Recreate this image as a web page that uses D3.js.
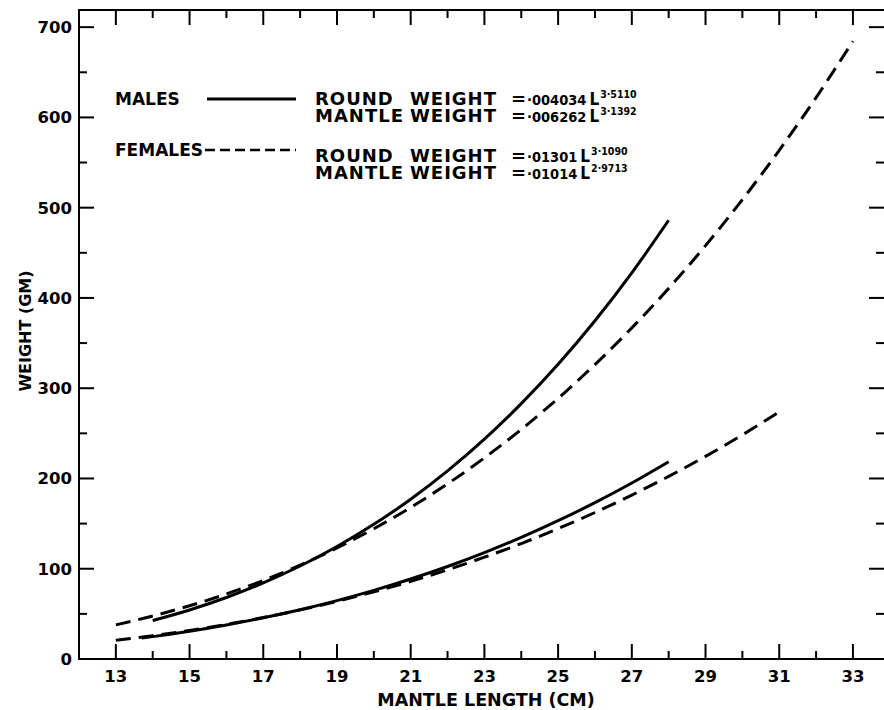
<!DOCTYPE html>
<html>
<head>
<meta charset="utf-8">
<script src="https://cdn.jsdelivr.net/npm/d3@7"></script>
<style>
	body { margin: 0; background: #fff; }
	svg text { font-family: "DejaVu Sans", sans-serif; font-weight: bold; fill: #000; }
	svg text.num { font-family: "DejaVu Sans Condensed", "DejaVu Sans", sans-serif; }
</style>
</head>
<body>
<svg id="chart" width="884" height="710"></svg>
<script>
// values (weight in gm at mantle length in cm)
const maleRoundLengths = [14, 15, 16, 17, 18, 19, 20, 21, 22, 23, 24, 25, 26, 27, 28];
const maleRound = [42.6, 54.3, 68.1, 84.3, 103, 124.6, 149.2, 177, 208.4, 243.6, 282.9, 326.5, 374.7, 427.8, 486.1];
const maleMantleLengths = [13.7, 14, 15, 16, 17, 18, 19, 20, 21, 22, 23, 24, 25, 26, 27, 28];
const maleMantle = [23.2, 24.8, 30.8, 37.7, 45.6, 54.6, 64.7, 76, 88.6, 102.5, 117.9, 134.7, 153.2, 173.2, 195, 218.6];
const femaleRoundLengths = [13, 14, 15, 16, 17, 18, 19, 20, 21, 22, 23, 24, 25, 26, 27, 28, 29, 30, 31, 32, 33];
const femaleRound = [37.8, 47.6, 59, 72.1, 87, 104, 123, 144.3, 167.9, 194, 222.8, 254.3, 288.7, 326.2, 366.8, 410.6, 458, 508.9, 563.6, 622, 684.4];
const femaleMantleLengths = [13, 14, 15, 16, 17, 18, 19, 20, 21, 22, 23, 24, 25, 26, 27, 28, 29, 30, 31];
const femaleMantle = [20.7, 25.8, 31.7, 38.4, 45.9, 54.4, 63.9, 74.4, 86, 98.8, 112.8, 127.9, 144.5, 162.3, 181.6, 202.3, 224.5, 248.3, 273.7];

const xTickLabels = [13, 15, 17, 19, 21, 23, 25, 27, 29, 31, 33];
const xMinorTicks = [14, 16, 18, 20, 22, 24, 26, 28, 30, 32];
const yTickLabels = [0, 100, 200, 300, 400, 500, 600, 700];
const yMinorTicks = [50, 150, 250, 350, 450, 550, 650];

const legendSexes = ['MALES', 'FEMALES'];
const eqLabels = ['ROUND', 'MANTLE', 'ROUND', 'MANTLE'];
const eqCoefs = ['·004034', '·006262', '·01301', '·01014'];
const eqExps = ['3·5110', '3·1392', '3·1090', '2·9713'];

const svg = d3.select('#chart');

const x = d3.scaleLinear().domain([12, 33.87]).range([79, 885]);
const y = d3.scaleLinear().domain([0, 719]).range([659, 10]);

// FRAME
svg.append('rect')
	.attr('x', x(12)).attr('y', y(719))
	.attr('width', x(33.87) - x(12)).attr('height', y(0) - y(719))
	.attr('fill', 'none').attr('stroke', '#000').attr('stroke-width', 2);

// TICKS (all pointing into the plot)
const g = svg.append('g');
const tickSet = (vals, len) => vals.map(v => ({ v, len }));
const xt = [...tickSet(xTickLabels, 15), ...tickSet(xMinorTicks, 8)];
const yt = [...tickSet(yTickLabels, 15), ...tickSet(yMinorTicks, 8)];

g.selectAll('line.xb').data(xt).join('line').attr('class', 'xb')
	.attr('x1', d => x(d.v)).attr('x2', d => x(d.v))
	.attr('y1', y(0)).attr('y2', d => y(0) - d.len)
	.attr('stroke', '#000').attr('stroke-width', 2);
g.selectAll('line.xt').data(xt).join('line').attr('class', 'xt')
	.attr('x1', d => x(d.v)).attr('x2', d => x(d.v))
	.attr('y1', y(719)).attr('y2', d => y(719) + d.len)
	.attr('stroke', '#000').attr('stroke-width', 2);
g.selectAll('line.yl').data(yt).join('line').attr('class', 'yl')
	.attr('y1', d => y(d.v)).attr('y2', d => y(d.v))
	.attr('x1', x(12)).attr('x2', d => x(12) + d.len)
	.attr('stroke', '#000').attr('stroke-width', 2);
g.selectAll('line.yr').data(yt).join('line').attr('class', 'yr')
	.attr('y1', d => y(d.v)).attr('y2', d => y(d.v))
	.attr('x1', x(33.87)).attr('x2', d => x(33.87) - d.len - 1)
	.attr('stroke', '#000').attr('stroke-width', 2);

// TICK LABELS
svg.selectAll('text.xl').data(xTickLabels).join('text').attr('class', 'xl')
	.attr('x', d => x(d)).attr('y', 682)
	.attr('text-anchor', 'middle').style('font-size', '16.5px')
	.text(d => d);
svg.selectAll('text.yl').data(yTickLabels).join('text').attr('class', 'yl')
	.attr('x', 72).attr('y', d => y(d)).attr('dy', '0.36em')
	.attr('text-anchor', 'end').style('font-size', '16.5px')
	.text(d => d);

// AXIS TITLES
svg.append('text')
	.attr('x', 486).attr('y', 706)
	.attr('text-anchor', 'middle').style('font-size', '17.5px')
	.text('MANTLE LENGTH (CM)');
svg.append('text')
	.attr('transform', 'translate(31,331)rotate(-90)')
	.attr('text-anchor', 'middle').style('font-size', '16px')
	.text('WEIGHT (GM)');

// CURVES
const line = d3.line()
	.x(d => x(d[0]))
	.y(d => y(d[1]))
	.curve(d3.curveMonotoneX);

const curves = [
	{ lengths: maleRoundLengths, values: maleRound, dash: null },
	{ lengths: maleMantleLengths, values: maleMantle, dash: null },
	{ lengths: femaleRoundLengths, values: femaleRound, dash: '15,8' },
	{ lengths: femaleMantleLengths, values: femaleMantle, dash: '15,8' },
];
svg.selectAll('path.curve').data(curves).join('path').attr('class', 'curve')
	.attr('d', d => line(d.lengths.map((l, i) => [l, d.values[i]])))
	.attr('fill', 'none').attr('stroke', '#000').attr('stroke-width', 3)
	.attr('stroke-dasharray', d => d.dash);

// LEGEND
const legY = [99, 150];
svg.selectAll('text.sex').data(legendSexes).join('text').attr('class', 'sex')
	.attr('x', 115).attr('y', (d, i) => legY[i]).attr('dy', '0.36em')
	.style('font-size', '17px')
	.text(d => d);
svg.append('line')
	.attr('x1', 207).attr('x2', 296).attr('y1', legY[0]).attr('y2', legY[0])
	.attr('stroke', '#000').attr('stroke-width', 3);
svg.append('line')
	.attr('x1', 205).attr('x2', 296).attr('y1', legY[1]).attr('y2', legY[1])
	.attr('stroke', '#000').attr('stroke-width', 2.5).attr('stroke-dasharray', '10,5');

const eqBase = [105, 122, 162, 179];
const eq = svg.selectAll('g.eq').data(eqLabels).join('g').attr('class', 'eq')
	.style('font-size', '18px').style('letter-spacing', '1px');
eq.append('text').attr('x', 315).attr('y', (d, i) => eqBase[i]).text(d => d);
eq.append('text').attr('x', 410).attr('y', (d, i) => eqBase[i]).text('WEIGHT');
eq.append('text').attr('x', 511).attr('y', (d, i) => eqBase[i]).text('=');
const eqT = eq.append('text').attr('class', 'num').attr('x', 527)
	.attr('y', (d, i) => eqBase[i]).style('letter-spacing', '0px');
eqT.append('tspan').style('font-size', '14.5px').text((d, i) => eqCoefs[i]);
eqT.append('tspan').attr('dx', 3).style('font-size', '17px').text('L');
eqT.append('tspan').attr('dy', -7).attr('dx', 1).style('font-size', '10.5px')
	.text((d, i) => eqExps[i]);
</script>
</body>
</html>
